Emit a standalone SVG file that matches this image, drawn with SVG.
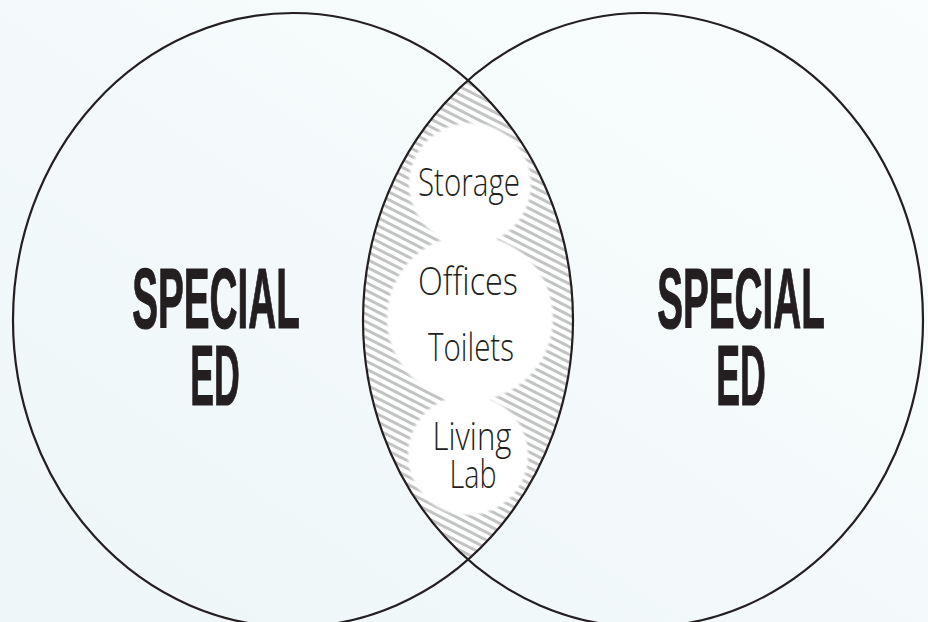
<svg xmlns="http://www.w3.org/2000/svg" width="928" height="622" viewBox="0 0 928 622">
  <defs>
    <linearGradient id="bg" x1="0" y1="1" x2="1" y2="0">
      <stop offset="0" stop-color="#edf6f8"/>
      <stop offset="1" stop-color="#fafdfd"/>
    </linearGradient>
    <pattern id="hatch" width="20" height="7" patternUnits="userSpaceOnUse" patternTransform="rotate(27)">
      <rect x="0" y="0" width="20" height="3" fill="#c2c4c4"/>
    </pattern>
    <clipPath id="clipL"><ellipse cx="293" cy="320" rx="280" ry="307"/></clipPath>
    <clipPath id="clipR"><ellipse cx="643" cy="320" rx="280" ry="307"/></clipPath>
    <filter id="soft" x="-20%" y="-20%" width="140%" height="140%">
      <feGaussianBlur stdDeviation="1.2"/>
    </filter>
  </defs>
  <style>
    .outline { fill: none; stroke: #231f20; stroke-width: 2.2; }
    .blob { fill: #ffffff; }
    .small { font-family: "Open Sans", "Noto Sans", "Liberation Sans", sans-serif; font-weight: 300; font-size: 38px; fill: #231f20; text-anchor: middle; }
    .big { font-family: "Liberation Sans", Arial, sans-serif; font-weight: 700; font-size: 85px; fill: #231f20; stroke: #231f20; stroke-width: 1.2; text-anchor: middle; }
  </style>
  <rect x="0" y="0" width="928" height="622" fill="url(#bg)"/>

  <g id="lens">
    <g clip-path="url(#clipL)">
      <g clip-path="url(#clipR)">
        <rect x="340" y="60" width="260" height="520" fill="#ffffff"/>
        <rect x="340" y="60" width="260" height="520" fill="url(#hatch)"/>
        <g filter="url(#soft)">
          <circle class="blob" cx="470" cy="184" r="61"/>
          <circle class="blob" cx="470" cy="318" r="83"/>
          <circle class="blob" cx="468" cy="455" r="60"/>
        </g>
      </g>
    </g>
  </g>

  <g id="circles">
    <ellipse id="circle-left" class="outline" cx="293" cy="320" rx="280" ry="307"/>
    <ellipse id="circle-right" class="outline" cx="643" cy="320" rx="280" ry="307"/>
  </g>

  <g id="storage"><text class="small" x="469" y="196" textLength="102" lengthAdjust="spacingAndGlyphs">Storage</text></g>
  <g id="offices"><text class="small" x="468" y="295" textLength="100" lengthAdjust="spacingAndGlyphs">Offices</text></g>
  <g id="toilets"><text class="small" x="471" y="361" textLength="86" lengthAdjust="spacingAndGlyphs">Toilets</text></g>
  <g id="living-lab">
    <text class="small" x="472" y="450" textLength="79" lengthAdjust="spacingAndGlyphs">Living</text>
    <text class="small" x="473" y="488" textLength="47" lengthAdjust="spacingAndGlyphs">Lab</text>
  </g>

  <g id="special-ed-left">
    <text class="big" transform="translate(216,328) scale(0.455,1)" x="0" y="0">SPECIAL</text>
    <text class="big" transform="translate(215,405) scale(0.42,1)" x="0" y="0">ED</text>
  </g>
  <g id="special-ed-right">
    <text class="big" transform="translate(741,328) scale(0.455,1)" x="0" y="0">SPECIAL</text>
    <text class="big" transform="translate(741,405) scale(0.42,1)" x="0" y="0">ED</text>
  </g>
</svg>
